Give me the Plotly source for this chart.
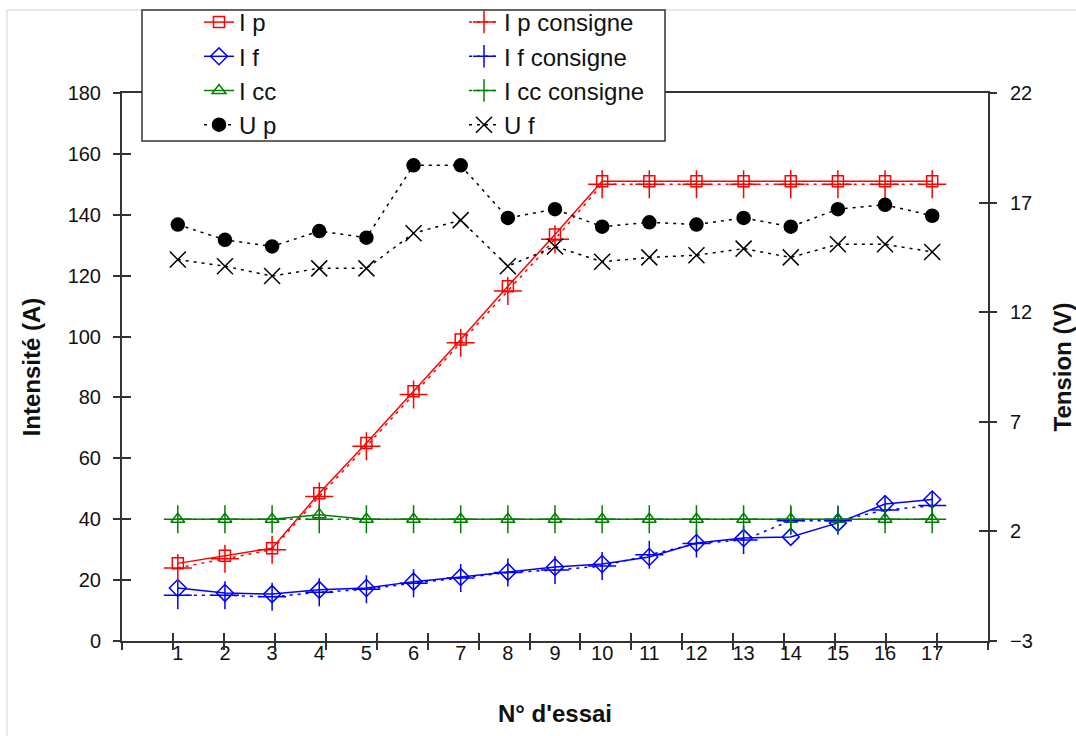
import plotly.graph_objects as go

essai = list(range(1, 18))
essai_labels = [str(v) for v in essai]

i_p = [25.5, 28, 30.5, 48.5, 65, 82, 99, 116.5, 133.5, 151, 151, 151, 151, 151, 151, 151, 151]
i_p_consigne = [24, 27, 30, 47.5, 64, 81, 98, 115, 132, 150, 150, 150, 150, 150, 150, 150, 150]
i_f = [17.4, 15.8, 15.4, 16.8, 17.4, 19.5, 21, 22.7, 24.3, 25.3, 27.6, 32.2, 33.8, 34.2, 38.8, 45, 46.5]
i_f_consigne = [15, 15, 14.5, 16, 17, 19, 20.7, 22.5, 23.3, 24.6, 28.3, 32, 33.2, 39.5, 39.5, 43, 44.5]
i_cc = [40, 40, 40, 41.5, 40, 40, 40, 40, 40, 40, 40, 40, 40, 40, 40, 40, 40]
i_cc_consigne = [40, 40, 40, 40, 40, 40, 40, 40, 40, 40, 40, 40, 40, 40, 40, 40, 40]
u_p = [16.0, 15.3, 15.0, 15.7, 15.4, 18.7, 18.7, 16.3, 16.7, 15.9, 16.1, 16.0, 16.3, 15.9, 16.7, 16.9, 16.4]
u_f = [14.4, 14.1, 13.65, 14.0, 14.0, 15.6, 16.2, 14.1, 15.0, 14.3, 14.5, 14.6, 14.9, 14.5, 15.1, 15.1, 14.75]

RED = "#FF0000"
BLUE = "#0000FF"
GREEN = "#008000"
BLACK = "#000000"
AXC = "#333333"
FONT = "Liberation Sans, Arial, sans-serif"
DOTS = "3px,5px"

# the page body margin is removed by post_script below, so the figure fills the window
W, H = 1076, 736
L, R, T, B = 122, 88, 93, 95
PW, PH = W - L - R, H - T - B


def px_x(p):  # pixel -> paper x
    return (p - L) / PW


def px_y(p):  # pixel -> paper y
    return 1 + (T - p) / PH


fig = go.Figure()


def add(name, y, color, symbol, size, dash, yaxis, legend):
    fig.add_trace(go.Scatter(
        x=essai_labels, y=y, name=name, mode="lines+markers",
        line=dict(color=color, width=1.5, dash=dash),
        marker=dict(symbol=symbol, size=size, color=color,
                    line=dict(color=color, width=1.5)),
        yaxis=yaxis, legend=legend,
    ))


add("I p", i_p, RED, "square-open", 11, "solid", "y", "legend")
add("I f", i_f, BLUE, "diamond-open", 13, "solid", "y", "legend")
add("I cc", i_cc, GREEN, "triangle-up-open", 12, "solid", "y", "legend")
add("U p", u_p, BLACK, "circle", 13, DOTS, "y2", "legend")
add("I p consigne", i_p_consigne, RED, "cross-thin-open", 20, DOTS, "y", "legend2")
add("I f consigne", i_f_consigne, BLUE, "cross-thin-open", 20, DOTS, "y", "legend2")
add("I cc consigne", i_cc_consigne, GREEN, "cross-thin-open", 20, DOTS, "y", "legend2")
add("U f", u_f, BLACK, "x-thin-open", 16, DOTS, "y2", "legend2")

# empty helper traces so the tick-only overlay axes get drawn
for xa, ya in [("x2", "y"), ("x3", "y"), ("x", "y3"), ("x", "y4")]:
    fig.add_trace(go.Scatter(x=[None], y=[None], xaxis=xa, yaxis=ya, mode="lines",
                             showlegend=False, hoverinfo="skip"))

axis_line = dict(showline=True, linecolor=AXC, linewidth=2, showgrid=False,
                 zeroline=False, tickcolor=AXC, tickwidth=2)
tickfont = dict(family=FONT, size=20, color="#111111")
titlefont = dict(family=FONT, size=24, color="#111111", weight="bold")
bare = dict(showticklabels=False, showline=False, showgrid=False, zeroline=False,
            tickcolor=AXC, tickwidth=2, fixedrange=True)

legend_common = dict(
    bgcolor="rgba(0,0,0,0)", borderwidth=0, orientation="v",
    font=dict(family=FONT, size=24, color="#111111"),
    xanchor="left", yanchor="top",
)

fig.update_layout(
    width=W, height=H,
    margin=dict(l=L, r=R, t=T, b=B, autoexpand=False),
    paper_bgcolor="white", plot_bgcolor="white",
    showlegend=True,
    xaxis=dict(type="category", categoryorder="array", categoryarray=essai_labels,
               ticks="", ticklen=0, mirror=True, tickfont=tickfont, ticklabelstandoff=-7,
               title=dict(text="N° d'essai", font=titlefont, standoff=42),
               **axis_line),
    xaxis2=dict(overlaying="x", anchor="y", side="bottom", range=[-0.5, 16.5],
                tick0=-0.5, dtick=1, ticks="outside", ticklen=8, **bare),
    xaxis3=dict(overlaying="x", anchor="y", side="bottom", range=[-0.5, 16.5],
                tick0=-0.5, dtick=1, ticks="inside", ticklen=8, **bare),
    yaxis=dict(range=[0, 180], dtick=20, ticks="outside", ticklen=7, mirror=True,
               tickfont=tickfont, ticklabelstandoff=8,
               title=dict(text="Intensité (A)", font=titlefont, standoff=20),
               **axis_line),
    yaxis2=dict(range=[-3, 22], tick0=-3, dtick=5, overlaying="y", side="right",
                anchor="x", ticks="outside", ticklen=7, tickfont=tickfont,
                ticklabelstandoff=9,
                title=dict(text="Tension (V)", font=titlefont, standoff=22),
                **axis_line),
    yaxis3=dict(range=[0, 180], dtick=20, overlaying="y", side="left", anchor="x",
                ticks="inside", ticklen=9, **bare),
    yaxis4=dict(range=[-3, 22], tick0=-3, dtick=5, overlaying="y", side="right",
                anchor="x", ticks="inside", ticklen=9, **bare),
    legend=dict(x=px_x(199), y=px_y(0), **legend_common),
    legend2=dict(x=px_x(464), y=px_y(0), **legend_common),
    shapes=[
        dict(type="rect", xref="paper", yref="paper",
             x0=px_x(7), x1=px_x(1080), y0=px_y(740), y1=px_y(10),
             line=dict(color="#d4d4d4", width=1), fillcolor="rgba(0,0,0,0)",
             layer="below"),
        dict(type="rect", xref="paper", yref="paper",
             x0=px_x(142), x1=px_x(665), y0=px_y(141), y1=px_y(10),
             line=dict(color=AXC, width=1.5), fillcolor="white",
             layer="above"),
    ],
)

fig.write_html(
    "out.html",
    config={"displayModeBar": False},
    post_script="document.body.style.margin='0';document.body.style.overflow='hidden';",
)
